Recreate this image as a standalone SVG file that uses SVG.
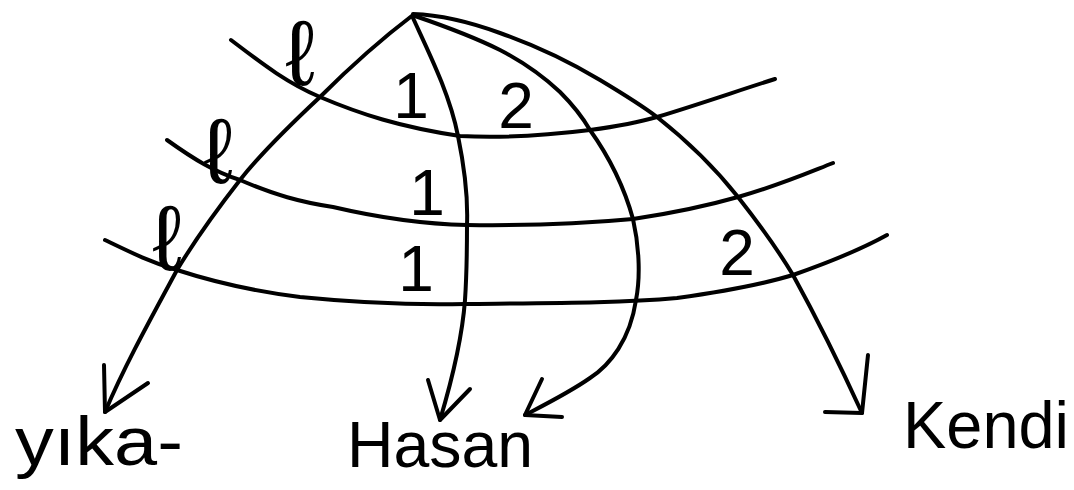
<svg xmlns="http://www.w3.org/2000/svg" width="1074" height="490" viewBox="0 0 1074 490">
  <style>
    .ln { fill: none; stroke: #000; stroke-width: 4; stroke-linecap: round; stroke-linejoin: round; }
    .lbl { font-family: "Liberation Sans", "DejaVu Sans", sans-serif; fill: #000; }
    .num { font-family: "Liberation Sans", "DejaVu Sans", sans-serif; font-size: 64px; fill: #000; text-anchor: middle; }
    .ell { font-family: "Liberation Sans", "DejaVu Sans", sans-serif; font-size: 92px; fill: #000; text-anchor: middle; }
  </style>
  <rect width="1074" height="490" fill="#fff"/>

  <g id="bands">
    <path class="ln" d="M231,40 C260,62 285,82 320,97 C360,114 400,127 460,136 C500,138 550,135 590,130 C620,126 640,122 657,117 C700,104 740,90 775,79"/>
    <path class="ln" d="M167,140 C195,160 215,172 240,180 C275,195 300,202 333,207 C380,218 420,224 467,225 C540,226 590,223 633,219 C680,212 710,205 738,197 C780,185 805,174 833,163"/>
    <path class="ln" d="M105,240 C130,252 150,262 177,270 C220,284 260,292 300,297 C360,303 420,305 465,304 C560,303 620,303 677,298 C720,292 760,285 793,275 C830,262 860,250 887,235"/>
  </g>

  <g id="connectors">
    <path class="ln" d="M413,15 C380,40 350,67 320,97 C290,125 262,152 240,180 C215,212 195,240 177,270 C150,320 125,365 105,412"/>
    <path class="ln" d="M104,365 L105,412 L148,383"/>
    <path class="ln" d="M413,18 C430,55 450,95 458,136 C465,170 468,200 467,225 C467,260 466,285 465,300 C462,340 452,380 440,420"/>
    <path class="ln" d="M428,380 L440,420 L470,389"/>
    <path class="ln" d="M415,16 C450,28 480,40 500,50 C525,63 545,78 560,92 C575,107 583,118 590,130 C610,158 625,190 633,219 C640,250 640,280 636,300 C630,340 610,365 590,378 C570,392 550,402 525,415"/>
    <path class="ln" d="M542,379 L525,415 L562,417"/>
    <path class="ln" d="M413,14 C440,15 470,22 500,33 C540,47 570,62 600,80 C620,92 640,104 657,117 C690,143 715,168 738,197 C760,225 778,250 793,275 C815,315 840,365 862,413"/>
    <path class="ln" d="M868,355 L862,413 L825,412"/>
  </g>

  <g id="marks">
    <text class="ell" x="300" y="85">ℓ</text>
    <text class="ell" x="218" y="183">ℓ</text>
    <text class="ell" x="167" y="270">ℓ</text>
    <text class="num" x="411" y="118">1</text>
    <text class="num" x="427" y="215">1</text>
    <text class="num" x="416" y="291">1</text>
    <text class="num" x="516" y="128">2</text>
    <text class="num" x="737" y="275">2</text>
  </g>

  <g id="node-yika">
    <text class="lbl" x="15" y="465" font-size="68" textLength="168" lengthAdjust="spacingAndGlyphs">yıka-</text>
  </g>
  <g id="node-hasan">
    <text class="lbl" x="347" y="467" font-size="64" textLength="186" lengthAdjust="spacingAndGlyphs">Hasan</text>
  </g>
  <g id="node-kendi">
    <text class="lbl" x="903" y="448" font-size="66" textLength="166" lengthAdjust="spacingAndGlyphs">Kendi</text>
  </g>
</svg>
